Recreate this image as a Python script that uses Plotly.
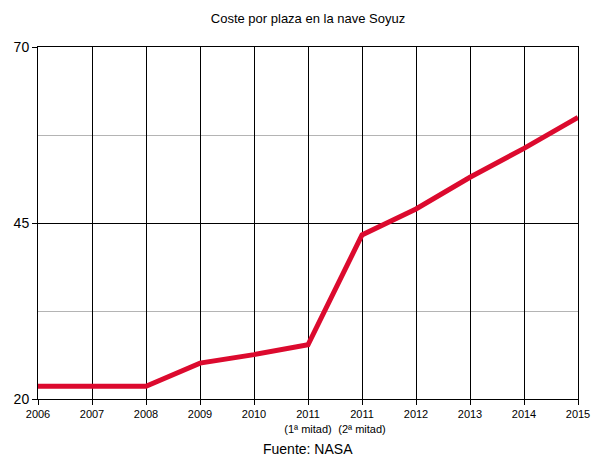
import plotly.graph_objects as go

# ── Data ─────────────────────────────────────────────────────────────────────
categories = [
    "2006", "2007", "2008", "2009", "2010",
    "2011<br>(1ª mitad)", "2011<br>(2ª mitad)",
    "2012", "2013", "2014", "2015",
]
cost = [21.8, 21.8, 21.8, 25.1, 26.3, 27.7, 43.3, 47.0, 51.5, 55.6, 60.0]
y_ticks = [20, 45, 70]
y_minor = [32.5, 57.5]

_FONT = "Liberation Sans, Arial, sans-serif"

# the page body has an 8px margin, so the figure is drawn 8px smaller
# and the left/top margins are trimmed by the same amount
fig = go.Figure(
    go.Scatter(
        x=categories,
        y=cost,
        mode="lines",
        line=dict(color="#dc0a2e", width=5),
        hoverinfo="x+y",
    )
)

fig.update_layout(
    width=592,
    height=455,
    margin=dict(l=30, r=22, t=39, b=64),
    plot_bgcolor="white",
    paper_bgcolor="white",
    showlegend=False,
    font=dict(family=_FONT, color="#000000"),
    title=dict(text="Coste por plaza en la nave Soyuz", x=0.5, xanchor="center",
               xref="paper", y=1 - 10 / 455, yanchor="middle",
               font=dict(size=13, family=_FONT)),
    xaxis=dict(
        type="category",
        automargin=False,
        showgrid=True, gridcolor="#000000", gridwidth=1,
        showline=True, linecolor="#000000", linewidth=1, mirror=True,
        ticks="outside", ticklen=5, tickcolor="#000000",
        tickfont=dict(size=11, family=_FONT),
        range=[0, len(categories) - 1],
        fixedrange=True,
    ),
    yaxis=dict(
        range=[20, 70],
        tickvals=y_ticks,
        automargin=False,
        showgrid=True, gridcolor="#000000", gridwidth=1,
        showline=True, linecolor="#000000", linewidth=1, mirror=True,
        ticks="outside", ticklen=5, tickcolor="#000000",
        tickfont=dict(size=14, family=_FONT),
        zeroline=False,
        minor=dict(tickvals=y_minor, showgrid=True, gridcolor="#b4b4b4",
                   gridwidth=1, ticks=""),
        fixedrange=True,
    ),
    annotations=[
        dict(text="Fuente: NASA", x=0.5, xref="paper", yref="paper",
             y=-50 / 352, yanchor="middle",
             showarrow=False, font=dict(size=14, family=_FONT)),
    ],
)

fig.write_html("out.html")
